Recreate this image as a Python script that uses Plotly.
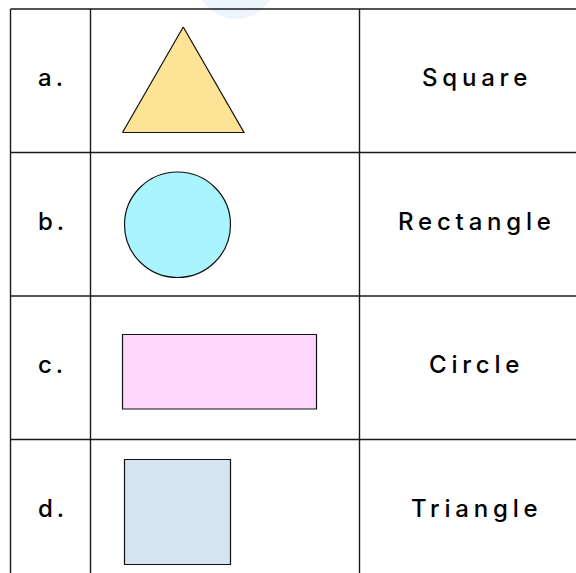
import plotly.graph_objects as go

# table content
row_labels = ["a.", "b.", "c.", "d."]
answer_names = ["Square", "Rectangle", "Circle", "Triangle"]
shape_kinds = ["triangle", "circle", "rectangle", "square"]
fill_colors = ["#FDE395", "#A9F4FD", "#FFD7FF", "#D6E4F1"]

W, H = 576, 573
row_lines = [9, 152.5, 296, 439.5, 583]
col_lines = [10.5, 90.5, 359.5, 590]

# geometry of each drawn shape inside its cell (x0, y0, x1, y1)
shape_boxes = {
    "triangle": (122.5, 27, 244, 132.5),
    "circle": (124.5, 172, 230.5, 277.5),
    "rectangle": (122.5, 334.5, 316.5, 409),
    "square": (124.5, 459.5, 230.5, 564.5),
}

fig = go.Figure()
shapes = []

# faint watermark blob at the top
shapes.append(dict(type="circle", xref="x", yref="y", x0=196, y0=-61, x1=276, y1=19,
                   fillcolor="#ECF5FD", line=dict(width=0), layer="below"))

for i, kind in enumerate(shape_kinds):
    x0, y0, x1, y1 = shape_boxes[kind]
    if kind == "triangle":
        fig.add_trace(go.Scatter(
            x=[x0, (x0 + x1) / 2, x1, x0], y=[y1, y0, y1, y1],
            mode="lines", fill="toself", fillcolor=fill_colors[i],
            line=dict(color="#111111", width=1.2), hoverinfo="skip", showlegend=False))
    else:
        shapes.append(dict(type="circle" if kind == "circle" else "rect",
                           xref="x", yref="y", x0=x0, y0=y0, x1=x1, y1=y1,
                           fillcolor=fill_colors[i], line=dict(color="#111111", width=1.2)))

# grid lines
for y in row_lines:
    shapes.append(dict(type="line", xref="x", yref="y", x0=col_lines[0], x1=W + 20, y0=y, y1=y,
                       line=dict(color="#1a1a1a", width=1.6)))
for x in col_lines:
    shapes.append(dict(type="line", xref="x", yref="y", x0=x, x1=x, y0=row_lines[0], y1=H + 20,
                       line=dict(color="#1a1a1a", width=1.4)))

text_font = dict(family="Inter", size=24, color="#000000", weight=500)
annotations = []
for i in range(len(row_labels)):
    yc = (row_lines[i] + row_lines[i + 1]) / 2 - 3
    annotations.append(dict(x=(col_lines[0] + col_lines[1]) / 2 + 2, y=yc, xref="x", yref="y",
                            text=f'<span style="letter-spacing:4px">{row_labels[i]}</span>',
                            showarrow=False, font=text_font))
    annotations.append(dict(x=(col_lines[2] + col_lines[3]) / 2 + 2, y=yc, xref="x", yref="y",
                            text=f'<span style="letter-spacing:4.8px">{answer_names[i]}</span>',
                            showarrow=False, font=text_font))

fig.update_layout(
    width=W, height=H,
    margin=dict(l=0, r=0, t=0, b=0),
    paper_bgcolor="white", plot_bgcolor="white",
    xaxis=dict(range=[0, W], visible=False, fixedrange=True),
    yaxis=dict(range=[H, 0], visible=False, fixedrange=True),
    shapes=shapes, annotations=annotations,
)

fig.write_html("out.html", config={"displayModeBar": False},
               post_script="document.body.style.margin='0px';")
